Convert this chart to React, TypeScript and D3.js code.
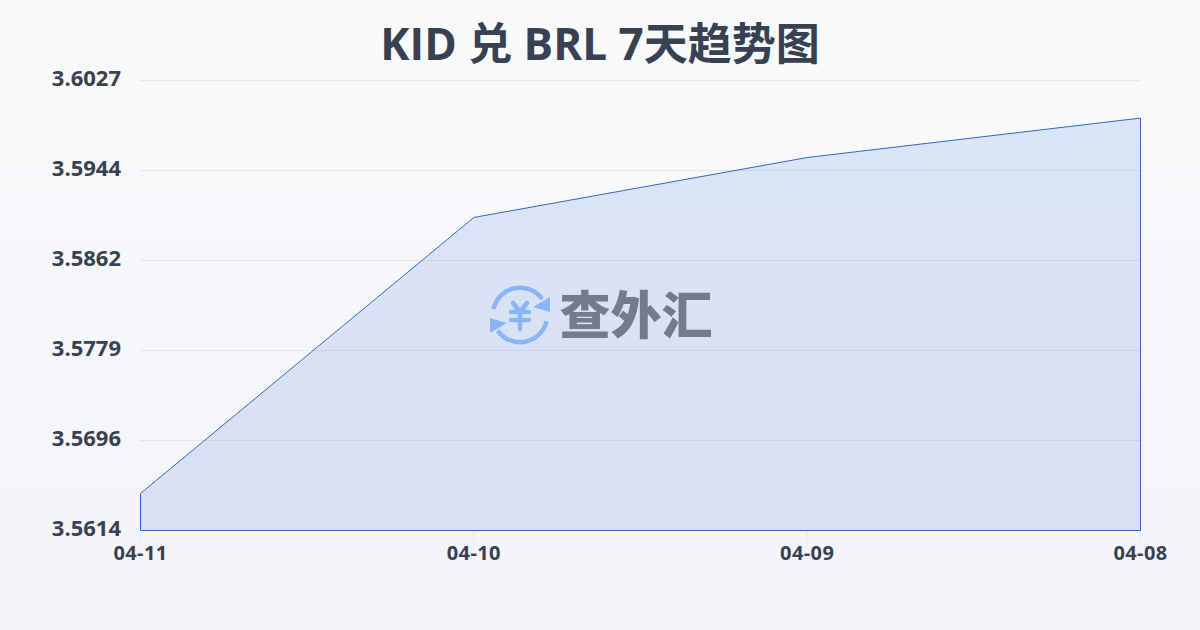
import React from "react";
import * as d3 from "d3";

const dates = ["04-11", "04-10", "04-09", "04-08"];
const rates = [3.5648, 3.59013, 3.59563, 3.59925];
const yTickLabels = ["3.6027", "3.5944", "3.5862", "3.5779", "3.5696", "3.5614"];
const yMin = 3.5614;
const yMax = 3.6027;
const title = "KID 兑 BRL 7天趋势图";
const logoText = "查外汇";

const W = 1200, H = 630;
const L = 140.5, R = 1140.5, T = 80.5, B = 530.5;
const sans = "'Open Sans', 'Noto Sans CJK SC', sans-serif";

export default function App() {
  const x = d3.scalePoint<string>().domain(dates).range([L, R]);
  const y = d3.scaleLinear().domain([yMin, yMax]).range([B, T]);
  const yTick = d3.scalePoint<string>().domain(yTickLabels).range([T, B]);
  const pts = dates.map((d, i) => [x(d) as number, y(rates[i])] as [number, number]);
  const line = d3.line()(pts) as string;
  const area = d3.area<[number, number]>().x(d => d[0]).y0(B).y1(d => d[1])(pts) as string;
  const arcA = d3.arc()({ innerRadius: 25, outerRadius: 29.5, startAngle: -1.35, endAngle: 0.95, cornerRadius: 2 }) as string;
  const arcB = d3.arc()({ innerRadius: 25, outerRadius: 29.5, startAngle: 1.8, endAngle: 4.1, cornerRadius: 2 }) as string;
  return (
    <svg width={W} height={H} viewBox={`0 0 ${W} ${H}`} style={{ position: "absolute", left: 0, top: 0, display: "block" }}>
      <defs>
        <linearGradient id="bg" x1="0" y1="0" x2="0" y2="1">
          <stop offset="0" stopColor="#f8fafc" />
          <stop offset="1" stopColor="#f2f4f7" />
        </linearGradient>
        <linearGradient id="fill" x1="0" y1="0" x2="0" y2="1">
          <stop offset="0" stopColor="#dae5f7" />
          <stop offset="1" stopColor="#d8e0f3" />
        </linearGradient>
      </defs>
      <rect width={W} height={H} fill="url(#bg)" />
      <text x={600} y={60} textAnchor="middle" fontFamily={sans} fontWeight={700} fontSize={44} fill="#374151">{title}</text>
      <path d={area} fill="url(#fill)" />
      {yTickLabels.map(t => (
        <g key={t}>
          <line x1={L} x2={R} y1={yTick(t)} y2={yTick(t)} stroke="#374151" strokeOpacity={0.09} />
          <text x={121} y={(yTick(t) as number) + 5} textAnchor="end" fontFamily={sans} fontWeight={700} fontSize={22} fill="#374151">{t}</text>
        </g>
      ))}
      {dates.map(d => (
        <g key={d}>
          <line x1={x(d)} x2={x(d)} y1={B} y2={B + 11} stroke="#e5e7eb" />
          <text x={x(d)} y={560} textAnchor="middle" fontFamily={sans} fontWeight={700} fontSize={20} letterSpacing={0.4} fill="#374151">{d}</text>
        </g>
      ))}
      <path d={`${area}Z`} fill="none" stroke="#3366c4" strokeWidth={1} />
      <g transform="translate(520,315)" fill="#8ab4f8">
        <path d={arcA} />
        <path d={arcB} />
        <path d="M30 -18 L30 -3 L13 -8 Z" />
        <path d="M-30 18 L-30 3 L-13 8 Z" />
        <path d="M-7 -12 L0 -3 L7 -12 M-9 -3 H9 M-9 5 H9 M0 -3 V14" fill="none" stroke="#8ab4f8" strokeWidth={4.5} strokeLinecap="round" strokeLinejoin="round" />
      </g>
      <text x={636} y={334} textAnchor="middle" fontFamily="'Noto Sans CJK SC'" fontWeight={900} fontSize={51} fill="#737c8e">{logoText}</text>
    </svg>
  );
}
